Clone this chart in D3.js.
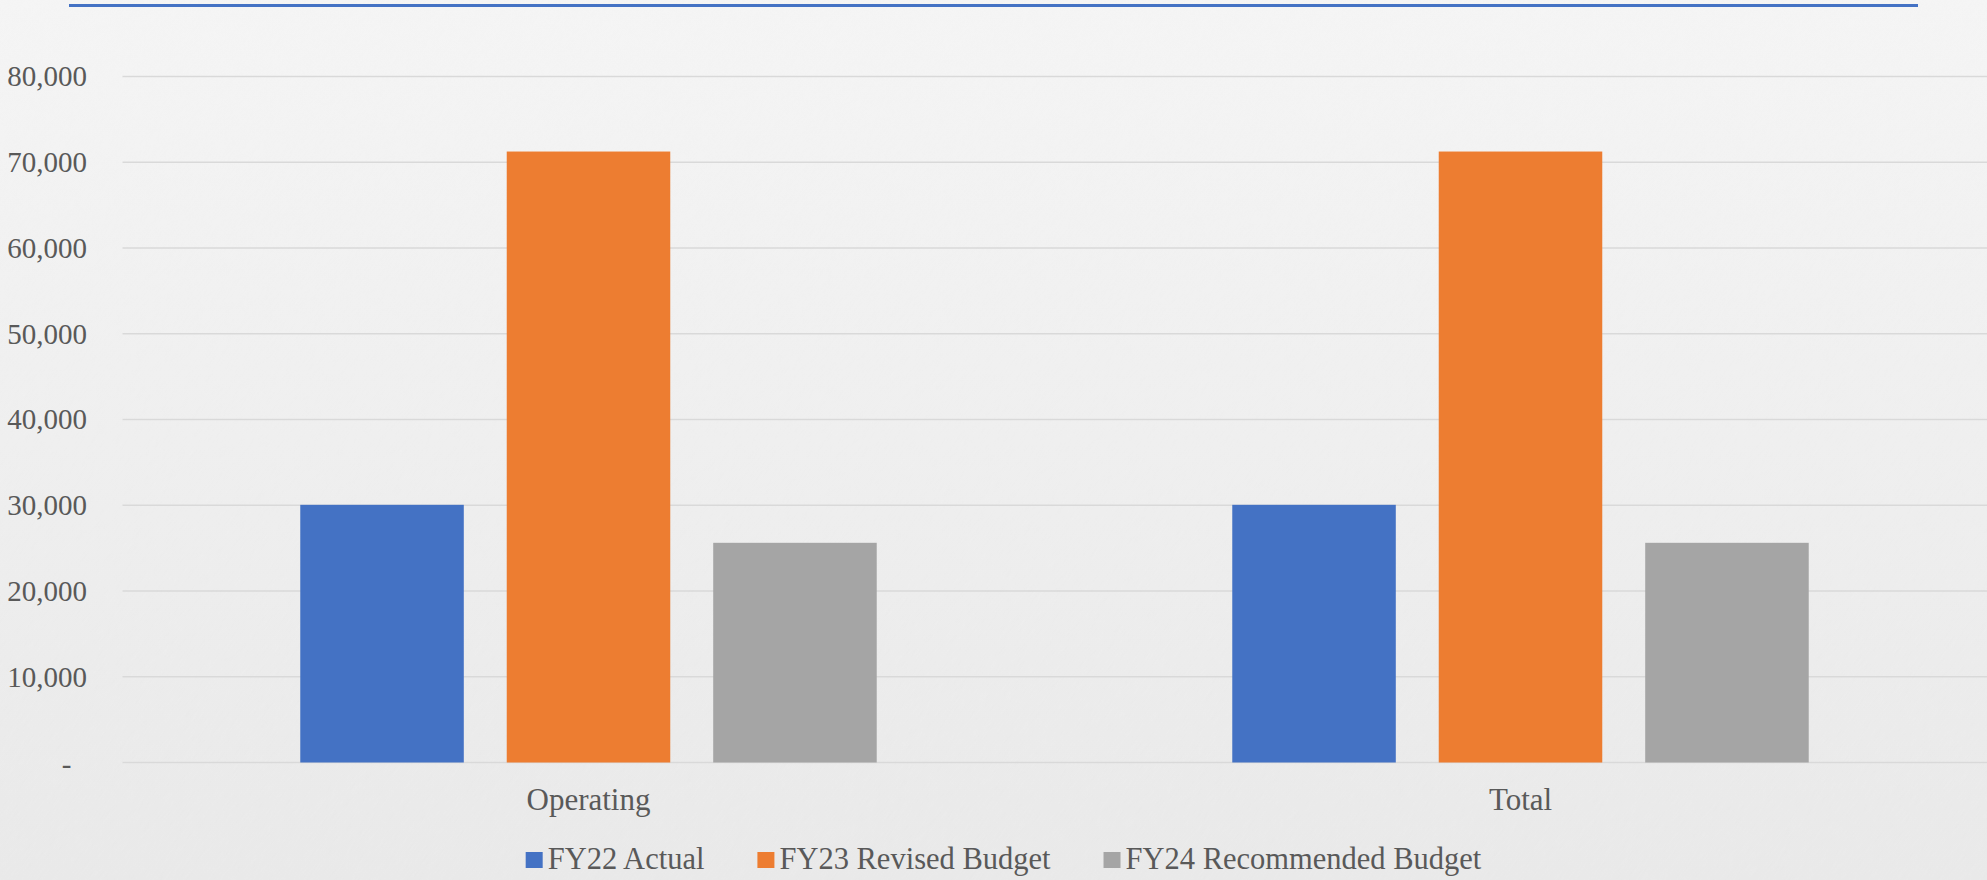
<!DOCTYPE html>
<html>
<head>
<meta charset="utf-8">
<script src="https://cdn.jsdelivr.net/npm/d3@7"></script>
<style>
  html, body { margin: 0; padding: 0; background: #efefef; overflow: hidden; }
  svg { display: block; }
  text { font-family: "Liberation Serif", "DejaVu Serif", serif; fill: #595959; }
</style>
</head>
<body>
<svg id="chart" width="1987" height="880"></svg>
<script>
// Budget data
const categories = ["Operating", "Total"];
const seriesNames = ["FY22 Actual", "FY23 Revised Budget", "FY24 Recommended Budget"];
const fy22Actual = [30050, 30050];
const fy23Revised = [71250, 71250];
const fy24Recommended = [25620, 25620];
const yTicks = [0, 10000, 20000, 30000, 40000, 50000, 60000, 70000, 80000];
const seriesColors = ["#4472C4", "#ED7D31", "#A5A5A5"];

const seriesValues = [fy22Actual, fy23Revised, fy24Recommended];

const W = 1987, H = 880;
const plot = { left: 122.5, right: 1987, top: 76.5, bottom: 762.5 };

const svg = d3.select("#chart");
const defs = svg.append("defs");

// Soft paper background: vertical shading plus a faint diagonal grain
const grad = defs.append("linearGradient")
  .attr("id", "bg").attr("x1", 0).attr("y1", 0).attr("x2", 0).attr("y2", 1);
grad.append("stop").attr("offset", "0%").attr("stop-color", "#f4f4f4");
grad.append("stop").attr("offset", "100%").attr("stop-color", "#e8e8e8");

const grain = defs.append("filter").attr("id", "grain")
  .attr("x", 0).attr("y", 0).attr("width", "100%").attr("height", "100%");
grain.append("feTurbulence")
  .attr("type", "fractalNoise").attr("baseFrequency", "0.9 0.06")
  .attr("numOctaves", 2).attr("seed", 7).attr("result", "noise");
grain.append("feColorMatrix").attr("type", "matrix")
  .attr("values", "0 0 0 0 1  0 0 0 0 1  0 0 0 0 1  0 0 0 0.22 0");

svg.append("rect").attr("width", W).attr("height", H).attr("fill", "url(#bg)");
svg.append("g").attr("transform", "rotate(35 993 440)")
  .append("rect").attr("x", -600).attr("y", -900).attr("width", W + 1200).attr("height", H + 1800)
  .attr("filter", "url(#grain)").attr("opacity", 0.5);

// Accent rule across the top
svg.append("line")
  .attr("x1", 69).attr("x2", 1918).attr("y1", 5.5).attr("y2", 5.5)
  .attr("stroke", "#4472C4").attr("stroke-width", 3);

// Scales
const x0 = d3.scaleBand().domain(categories).range([plot.left, W - 0.5]).padding(0);
const x1 = d3.scaleBand().domain(seriesNames).range([0, x0.bandwidth()])
  .paddingInner(0.208).paddingOuter(0.861);
const y = d3.scaleLinear().domain([0, 80000]).range([plot.bottom, plot.top]);

// Gridlines
svg.append("g").selectAll("line").data(yTicks).join("line")
  .attr("x1", plot.left).attr("x2", plot.right)
  .attr("y1", d => y(d)).attr("y2", d => y(d))
  .attr("stroke", "#d9d9d9").attr("stroke-width", 1.3);

// Y axis labels
const yAxis = d3.axisLeft(y).tickValues(yTicks).tickSize(0).tickPadding(0)
  .tickFormat(d => d === 0 ? "-" : d3.format(",")(d));
const yg = svg.append("g").attr("transform", "translate(87,0)").call(yAxis);
yg.select(".domain").remove();
yg.selectAll("text").attr("font-size", 29).attr("fill", "#595959")
  .attr("font-family", "Liberation Serif, serif").attr("dy", "0.32em");
yg.selectAll(".tick").filter(d => d === 0).select("text")
  .attr("text-anchor", "middle").attr("x", -20.5).attr("dy", "0.38em");

// Bars
const groups = svg.append("g").selectAll("g").data(categories).join("g")
  .attr("transform", c => `translate(${x0(c)},0)`);
groups.selectAll("rect")
  .data((c, ci) => seriesNames.map((s, si) => ({ s, si, v: seriesValues[si][ci] })))
  .join("rect")
  .attr("x", d => x1(d.s))
  .attr("width", x1.bandwidth())
  .attr("y", d => y(d.v))
  .attr("height", d => y(0) - y(d.v))
  .attr("fill", d => seriesColors[d.si]);

// Category axis labels
const xAxis = d3.axisBottom(x0).tickSize(0).tickPadding(0);
const xg = svg.append("g").attr("transform", `translate(0,${plot.bottom})`).call(xAxis);
xg.select(".domain").remove();
xg.selectAll("text").attr("font-size", 31).attr("fill", "#595959")
  .attr("font-family", "Liberation Serif, serif").attr("dy", 0).attr("y", 47);

// Legend
const legend = svg.append("g");
const items = legend.selectAll("g").data(seriesNames).join("g");
items.append("rect").attr("width", 17).attr("height", 16).attr("y", 852)
  .attr("fill", (d, i) => seriesColors[i]);
items.append("text").attr("x", 22).attr("y", 869)
  .attr("font-size", 30.5).attr("fill", "#595959").text(d => d);
let cursor = 0;
const offsets = [];
items.each(function () {
  offsets.push(cursor);
  const tw = d3.select(this).select("text").node().getComputedTextLength();
  cursor += 22 + tw + 53;
});
const total = cursor - 53;
const start = 1003.5 - total / 2;
items.attr("transform", (d, i) => `translate(${start + offsets[i]},0)`);
</script>
</body>
</html>
